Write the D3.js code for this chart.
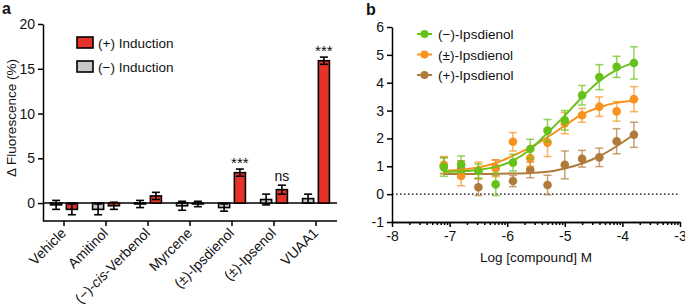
<!DOCTYPE html>
<html>
<head>
<meta charset="utf-8">
<script src="https://cdn.jsdelivr.net/npm/d3@7"></script>
<style>
  body { margin: 0; background: #fff; }
  text { font-family: Arial, "Liberation Sans", Helvetica, sans-serif; fill: #111; }
  .axis path, .axis line { stroke: #000; stroke-width: 1.5; }
  .axis text { font-size: 13px; }
</style>
</head>
<body>
<svg id="chart"></svg>
<script>
var svgWidth = 685;
var svgHeight = 306;

// ---- panel a data ----
var compounds = ["Vehicle", "Amitinol", "(\u2212)-cis-Verbenol", "Myrcene", "(\u00b1)-Ipsdienol", "(\u00b1)-Ipsenol", "VUAA1"];
var negInduction = [-0.2, -0.7, -0.1, -0.3, -0.5, 0.4, 0.5];
var negError = [0.5, 0.6, 0.4, 0.5, 0.4, 0.6, 0.5];
var posInduction = [-0.7, -0.3, 0.8, -0.1, 3.4, 1.5, 15.9];
var posError = [0.6, 0.4, 0.4, 0.3, 0.4, 0.5, 0.4];
var significance = ["", "", "", "", "***", "ns", "***"];
var yTicksA = [0, 5, 10, 15, 20];

// ---- panel b data ----
var logDose = [-7.1, -6.8, -6.5, -6.2, -5.9, -5.6, -5.3, -5.0, -4.7, -4.4, -4.1, -3.8];
var minusIps = [0.97, 1.07, 0.83, 0.35, 1.13, 1.62, 2.28, 2.65, 3.55, 4.2, 4.57, 4.71];
var minusIpsErr = [0.33, 0.3, 0.25, 0.4, 0.3, 0.35, 0.4, 0.35, 0.35, 0.45, 0.38, 0.58];
var racIps = [1.05, 0.65, 0.85, 0.93, 1.88, 1.3, 1.85, 2.55, 2.83, 3.14, 2.97, 3.41];
var racIpsErr = [0.3, 0.35, 0.3, 0.3, 0.33, 0.3, 0.5, 0.38, 0.25, 0.35, 0.35, 0.45];
var plusIps = [1.02, 0.9, 0.25, 0.95, 0.47, 0.87, 0.33, 1.05, 1.27, 1.32, 1.9, 2.13];
var plusIpsErr = [0.3, 0.3, 0.3, 0.28, 0.2, 0.28, 0.35, 0.5, 0.3, 0.33, 0.45, 0.45];
var xTicksB = [-8, -7, -6, -5, -4, -3];
var yTicksB = [-1, 0, 1, 2, 3, 4, 5, 6];

// fitted curves
var fitDose = [-7.1, -6.8, -6.5, -6.2, -5.9, -5.6, -5.3, -5.0, -4.7, -4.4, -4.1, -3.8];
var minusFit = [0.8, 0.82, 0.87, 0.98, 1.2, 1.6, 2.2, 2.82, 3.48, 4.06, 4.46, 4.72];
var racFit = [0.84, 0.88, 0.96, 1.12, 1.38, 1.68, 2.04, 2.46, 2.86, 3.12, 3.28, 3.34];
var plusFit = [0.72, 0.72, 0.72, 0.73, 0.74, 0.76, 0.8, 0.92, 1.1, 1.36, 1.72, 2.14];

var seriesNames = ["(\u2212)-Ipsdienol", "(\u00b1)-Ipsdienol", "(+)-Ipsdienol"];
var seriesColors = ["#66c21a", "#f7931e", "#b07a3a"];

var svg = d3.select("#chart").attr("width", svgWidth).attr("height", svgHeight);

// ================= panel a =================
var gA = svg.append("g");

var x0 = d3.scaleBand().domain(compounds).range([43, 337]).paddingInner(0.2857).paddingOuter(0.143);
var x1 = d3.scaleBand().domain(["neg", "pos"]).range([0, x0.bandwidth()]).paddingInner(0.3).paddingOuter(0.1);
var yA = d3.scaleLinear().domain([-2, 20]).range([221, 24]);

gA.append("g")
  .attr("class", "axis")
  .attr("transform", "translate(43,0)")
  .call(d3.axisLeft(yA).tickValues(yTicksA).tickSize(5).tickSizeOuter(0))
  .call(function(g) { g.selectAll("text").attr("x", -8).style("font-size", "14px"); });

var xAxisA = gA.append("g")
  .attr("class", "axis")
  .attr("transform", "translate(0,221)")
  .call(d3.axisBottom(x0).tickSize(5).tickSizeOuter(0));

xAxisA.select(".domain").attr("d", "M43,0H337");

xAxisA.selectAll(".tick text")
  .attr("text-anchor", "end")
  .attr("dy", null)
  .attr("y", 0)
  .style("font-size", "14px")
  .attr("transform", "translate(3,13) rotate(-45)")
  .each(function(d) {
    if (d.indexOf("cis") >= 0) {
      var parts = d.split("cis");
      var t = d3.select(this).text(null);
      t.append("tspan").text(parts[0]);
      t.append("tspan").style("font-style", "italic").text("cis");
      t.append("tspan").text(parts[1]);
    }
  });

// zero line
gA.append("line")
  .attr("x1", 43).attr("x2", 337)
  .attr("y1", yA(0)).attr("y2", yA(0))
  .attr("stroke", "#000").attr("stroke-width", 1.5);

var barData = compounds.map(function(c, i) {
  return [
    { name: c, key: "neg", value: negInduction[i], err: negError[i] },
    { name: c, key: "pos", value: posInduction[i], err: posError[i] }
  ];
});

var groups = gA.selectAll(".grp")
  .data(barData)
  .enter()
  .append("g")
  .attr("class", "grp")
  .attr("transform", function(d) { return "translate(" + x0(d[0].name) + ",0)"; });

groups.selectAll("rect")
  .data(function(d) { return d; })
  .enter()
  .append("rect")
  .attr("x", function(d) { return x1(d.key); })
  .attr("width", x1.bandwidth())
  .attr("y", function(d) { return yA(Math.max(0, d.value)); })
  .attr("height", function(d) { return Math.abs(yA(d.value) - yA(0)); })
  .attr("fill", function(d) { return d.key === "pos" ? "#e5332a" : "#c8c8c8"; })
  .attr("stroke", "#000")
  .attr("stroke-width", 1.6);

var errA = groups.selectAll(".err")
  .data(function(d) { return d; })
  .enter()
  .append("g")
  .attr("class", "err")
  .attr("stroke", "#000")
  .attr("stroke-width", 1.6);

errA.append("line")
  .attr("x1", function(d) { return x1(d.key) + x1.bandwidth() / 2; })
  .attr("x2", function(d) { return x1(d.key) + x1.bandwidth() / 2; })
  .attr("y1", function(d) { return yA(d.value - d.err); })
  .attr("y2", function(d) { return yA(d.value + d.err); });

errA.selectAll(".cap")
  .data(function(d) { return [d.value - d.err, d.value + d.err].map(function(v) { return { key: d.key, v: v }; }); })
  .enter()
  .append("line")
  .attr("x1", function(d) { return x1(d.key) + x1.bandwidth() / 2 - 4; })
  .attr("x2", function(d) { return x1(d.key) + x1.bandwidth() / 2 + 4; })
  .attr("y1", function(d) { return yA(d.v); })
  .attr("y2", function(d) { return yA(d.v); });

groups.append("text")
  .attr("x", function(d) { return x1("pos") + x1.bandwidth() / 2; })
  .attr("y", function(d, i) { return yA(d[1].value + d[1].err) - (significance[i] === "ns" ? 4 : 1); })
  .attr("text-anchor", "middle")
  .style("font-size", function(d, i) { return significance[i] === "ns" ? "14px" : "15px"; })
  .text(function(d, i) { return significance[i]; });

// y label
gA.append("text")
  .attr("transform", "translate(16,118) rotate(-90)")
  .attr("text-anchor", "middle")
  .style("font-size", "13.5px")
  .text("\u0394 Fluorescence (%)");

// legend a
var legA = gA.selectAll(".legA")
  .data([{ label: "(+) Induction", fill: "#e5332a" }, { label: "(\u2212) Induction", fill: "#c8c8c8" }])
  .enter()
  .append("g")
  .attr("transform", function(d, i) { return "translate(77," + (37 + i * 24) + ")"; });

legA.append("rect")
  .attr("width", 16).attr("height", 11)
  .attr("fill", function(d) { return d.fill; })
  .attr("stroke", "#000").attr("stroke-width", 1.6);

legA.append("text")
  .attr("x", 21).attr("y", 10.5)
  .style("font-size", "13.5px")
  .text(function(d) { return d.label; });

svg.append("text").attr("x", 2).attr("y", 14)
  .style("font-size", "16px").style("font-weight", "bold").text("a");

// ================= panel b =================
var gB = svg.append("g");
var xB = d3.scaleLinear().domain([-8, -3]).range([392, 680]);
var yB = d3.scaleLinear().domain([-1, 6]).range([222, 27]);

gB.append("g")
  .attr("class", "axis")
  .attr("transform", "translate(392,0)")
  .call(d3.axisLeft(yB).tickValues(yTicksB).tickSize(5).tickSizeOuter(0)
    .tickFormat(function(d) { return String(d); }))
  .call(function(g) { g.selectAll("text").attr("x", -8).style("font-size", "14px"); });

// minor log ticks
var minorTicks = [];
d3.range(-8, -3).forEach(function(dec) {
  d3.range(2, 10).forEach(function(k) { minorTicks.push(dec + Math.log10(k)); });
});

gB.append("g")
  .attr("class", "axis")
  .attr("transform", "translate(0,222)")
  .call(d3.axisBottom(xB).tickValues(minorTicks).tickSize(3).tickSizeOuter(0).tickFormat(""));

gB.append("g")
  .attr("class", "axis")
  .attr("transform", "translate(0,222)")
  .call(d3.axisBottom(xB).tickValues(xTicksB).tickSize(5).tickSizeOuter(0)
    .tickFormat(function(d) { return String(d); }))
  .call(function(g) { g.selectAll("text").attr("y", 9).style("font-size", "14px"); });

gB.append("text")
  .attr("x", 536).attr("y", 262)
  .attr("text-anchor", "middle")
  .style("font-size", "13.5px")
  .text("Log [compound] M");

gB.append("line")
  .attr("x1", xB(-8)).attr("x2", xB(-3))
  .attr("y1", yB(0)).attr("y2", yB(0))
  .attr("stroke", "#000").attr("stroke-width", 1.2)
  .attr("stroke-dasharray", "1.5,2.5");

var seriesB = [
  { vals: minusIps, errs: minusIpsErr, fit: minusFit, color: seriesColors[0] },
  { vals: racIps, errs: racIpsErr, fit: racFit, color: seriesColors[1] },
  { vals: plusIps, errs: plusIpsErr, fit: plusFit, color: seriesColors[2] }
];

var line = d3.line()
  .x(function(d) { return xB(d[0]); })
  .y(function(d) { return yB(d[1]); })
  .curve(d3.curveMonotoneX);

// draw brown first so green ends up on top
seriesB.slice().reverse().forEach(function(s) {
  var g = gB.append("g");
  var pts = logDose.map(function(x, i) { return { x: x, v: s.vals[i], e: s.errs[i] }; });

  var eb = g.selectAll(".eb").data(pts).enter().append("g")
    .attr("stroke", s.color).attr("stroke-opacity", 0.7).attr("stroke-width", 1.5);
  eb.append("line")
    .attr("x1", function(d) { return xB(d.x); }).attr("x2", function(d) { return xB(d.x); })
    .attr("y1", function(d) { return yB(d.v - d.e); }).attr("y2", function(d) { return yB(d.v + d.e); });
  eb.append("line")
    .attr("x1", function(d) { return xB(d.x) - 4; }).attr("x2", function(d) { return xB(d.x) + 4; })
    .attr("y1", function(d) { return yB(d.v - d.e); }).attr("y2", function(d) { return yB(d.v - d.e); });
  eb.append("line")
    .attr("x1", function(d) { return xB(d.x) - 4; }).attr("x2", function(d) { return xB(d.x) + 4; })
    .attr("y1", function(d) { return yB(d.v + d.e); }).attr("y2", function(d) { return yB(d.v + d.e); });

  g.append("path")
    .datum(fitDose.map(function(x, i) { return [x, s.fit[i]]; }))
    .attr("d", line)
    .attr("fill", "none")
    .attr("stroke", s.color)
    .attr("stroke-width", 2);

  g.selectAll("circle").data(pts).enter().append("circle")
    .attr("cx", function(d) { return xB(d.x); })
    .attr("cy", function(d) { return yB(d.v); })
    .attr("r", 4.3)
    .attr("fill", s.color);
});

// legend b
var legB = gB.selectAll(".legB")
  .data(seriesNames)
  .enter()
  .append("g")
  .attr("transform", function(d, i) { return "translate(417," + (34 + i * 20.5) + ")"; });

legB.append("line")
  .attr("x1", 0).attr("x2", 15)
  .attr("stroke", function(d, i) { return seriesColors[i]; })
  .attr("stroke-width", 2);

legB.append("circle")
  .attr("cx", 7.5).attr("r", 4)
  .attr("fill", function(d, i) { return seriesColors[i]; });

legB.append("text")
  .attr("x", 21).attr("y", 5)
  .style("font-size", "13.5px")
  .text(function(d) { return d; });

svg.append("text").attr("x", 366).attr("y", 15)
  .style("font-size", "16px").style("font-weight", "bold").text("b");
</script>
</body>
</html>
